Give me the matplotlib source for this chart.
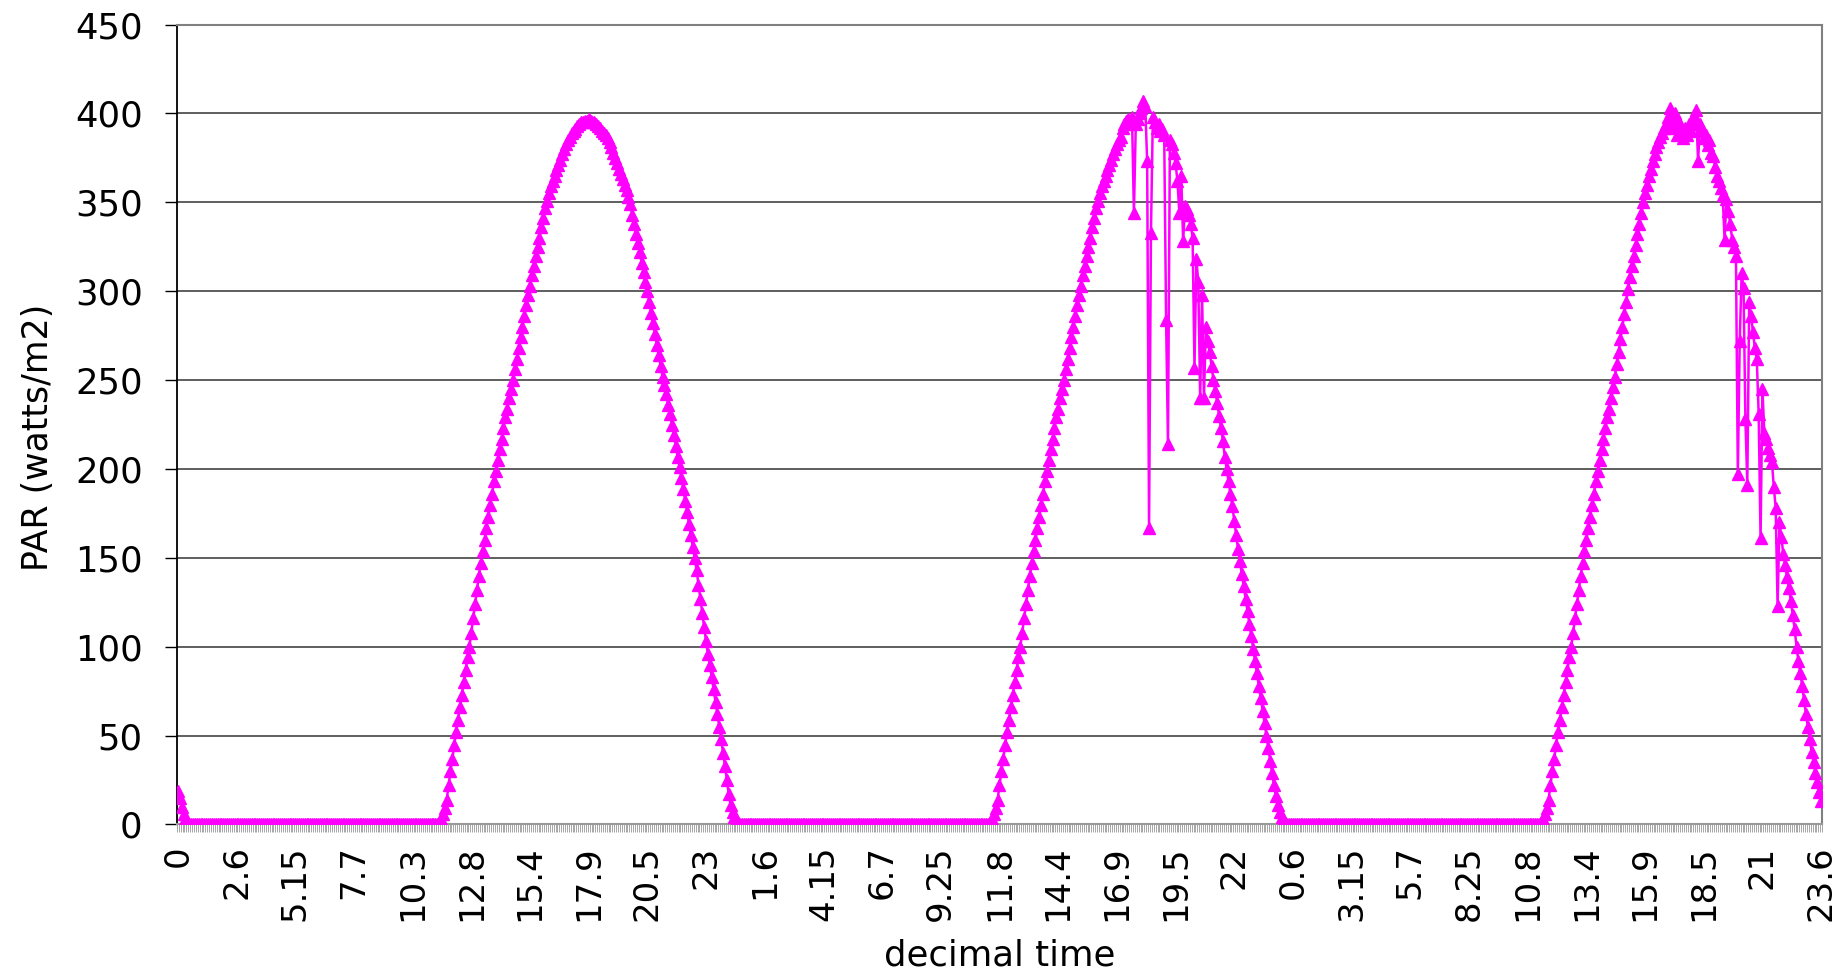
import matplotlib
matplotlib.use('Agg')
import matplotlib.pyplot as plt
import numpy as np
from matplotlib.ticker import FixedLocator

# PAR readings over three days (one category per reading)
dawn_tail = [19, 15, 10, 6, 3, 1]
night_lengths = [132, 133, 133]

day1 = [1, 3, 6, 9, 14, 22, 30, 37, 45, 52, 59, 66, 73, 80, 87, 94, 100, 108, 116, 124,
        132, 140, 147, 154, 160, 167, 173, 180, 186, 193, 199, 205, 211, 217, 223, 229, 234, 240, 245, 250,
        256, 262, 268, 274, 280, 286, 292, 298, 303, 309, 314, 320, 325, 330, 336, 341, 347, 351, 355, 359,
        362, 365, 368, 371, 374, 377, 380, 383, 385, 387, 389, 390, 391, 393, 394, 395, 395, 396, 396, 397,
        396, 395, 395, 394, 393, 392, 390, 389, 388, 386, 384, 381, 378, 375, 372, 369, 366, 363, 360, 357,
        353, 349, 343, 338, 332, 327, 322, 316, 311, 305, 300, 294, 288, 282, 276, 270, 264, 258, 252, 247,
        242, 236, 231, 225, 219, 213, 207, 201, 195, 189, 182, 176, 169, 163, 156, 150, 143, 135, 127, 119,
        111, 103, 96, 90, 83, 76, 69, 62, 55, 48, 40, 33, 25, 17, 11, 7, 4, 2]

day2 = [1, 3, 6, 9, 14, 22, 30, 37, 45, 52, 59, 66, 73, 80, 87, 94, 100, 108, 116, 124,
        132, 140, 147, 154, 160, 167, 173, 180, 186, 193, 199, 205, 211, 217, 223, 229, 234, 240, 245, 250,
        256, 262, 268, 274, 280, 286, 292, 298, 303, 309, 314, 320, 325, 330, 336, 341, 347, 351, 355, 359,
        362, 365, 368, 371, 374, 377, 380, 383, 385, 387,
        392, 394, 396, 397, 395, 398, 344, 394, 397, 400, 403, 407, 404, 373, 167, 333, 398, 395, 392, 394,
        390, 391, 388, 284, 214, 385, 383, 378, 372, 362, 344, 365, 328, 348, 346, 343, 338, 330, 257, 318,
        305, 240, 298, 240, 280, 272, 266, 258, 250, 244, 237, 230, 223, 216, 207, 200, 193, 186, 179, 171,
        163, 155, 148, 141, 134, 127, 120, 113, 106, 99, 92, 85, 78, 71, 64, 57, 50, 43, 36, 29,
        22, 16, 11, 7, 4, 2, 1, 0]

day3 = [1, 3, 6, 9, 14, 22, 30, 37, 45, 52, 59, 66, 73, 80, 87, 94, 100, 108, 116, 124,
        132, 140, 147, 154, 160, 167, 173, 180, 186, 193, 199, 205, 211, 217, 223, 229, 234, 240, 246, 252,
        259, 266, 273, 280, 287, 294, 301, 308, 314, 320, 326, 332, 338, 344, 350, 355, 360, 365, 369, 373,
        377, 381, 384, 387, 389, 392, 394, 398, 403, 392, 397, 400, 388, 395, 390, 386, 392, 388, 394, 390,
        396, 399, 402,
        373, 394, 390, 386, 388, 382, 385, 378, 376, 370, 365, 362, 358, 354, 329, 352, 345, 338, 329, 325,
        320, 197, 272, 310, 302, 228, 191, 294, 286, 277, 268, 262, 231, 161, 245, 220, 217, 212, 208, 204,
        190, 178, 123, 170, 162, 152, 146, 139, 133, 126, 118, 110, 100, 92, 85, 78, 70, 62, 55, 48,
        41, 35, 29, 24, 18, 13]

time_labels = ["0", "2.6", "5.15", "7.7", "10.3", "12.8", "15.4", "17.9", "20.5", "23",
               "1.6", "4.15", "6.7", "9.25", "11.8", "14.4", "16.9", "19.5", "22",
               "0.6", "3.15", "5.7", "8.25", "10.8", "13.4", "15.9", "18.5", "21", "23.6"]
label_step = 31

par = np.array(dawn_tail + [0] * night_lengths[0] + day1 + [0] * night_lengths[1]
               + day2 + [0] * night_lengths[2] + day3, dtype=float)
n = len(par)
x = np.arange(n)

fig = plt.figure(figsize=(18.39, 9.77), dpi=100)
ax = fig.add_axes([0.0962, 0.1561, 0.8946, 0.8187])

ax.plot(x, par, color='#FF00FF', lw=1.8, marker='^', ms=9, mec='#FF00FF', mfc='#FF00FF', zorder=3)

ax.set_xlim(-0.5, n - 0.5)
ax.set_ylim(0, 450)
ax.set_yticks(np.arange(0, 451, 50))
ax.yaxis.grid(True, color='#333333', lw=1.1)
ax.set_axisbelow(True)

ax.set_xticks(np.arange(len(time_labels)) * label_step, labels=time_labels, rotation=90)
ax.xaxis.set_minor_locator(FixedLocator(np.arange(n + 1) - 0.5))
ax.tick_params(axis='x', which='major', length=0, pad=15, labelsize=24.5)
ax.tick_params(axis='x', which='minor', length=6, width=0.6, color='#999999', direction='out')
ax.tick_params(axis='y', which='major', length=8.6, width=1.0, pad=16, labelsize=25.5, direction='out')

ax.spines['left'].set_color('black')
ax.spines['left'].set_linewidth(1.3)
ax.spines['bottom'].set_color('#999999')
ax.spines['bottom'].set_linewidth(1.5)
for side in ['top', 'right']:
    ax.spines[side].set_color('#808080')
    ax.spines[side].set_linewidth(1.5)

ax.set_ylabel('PAR (watts/m2)', fontsize=25)
ax.yaxis.set_label_coords(-0.0742, 0.484)
ax.set_xlabel('decimal time', fontsize=25.5)
ax.xaxis.set_label_coords(0.5, -0.142)

fig.savefig('out.png', dpi=100)
